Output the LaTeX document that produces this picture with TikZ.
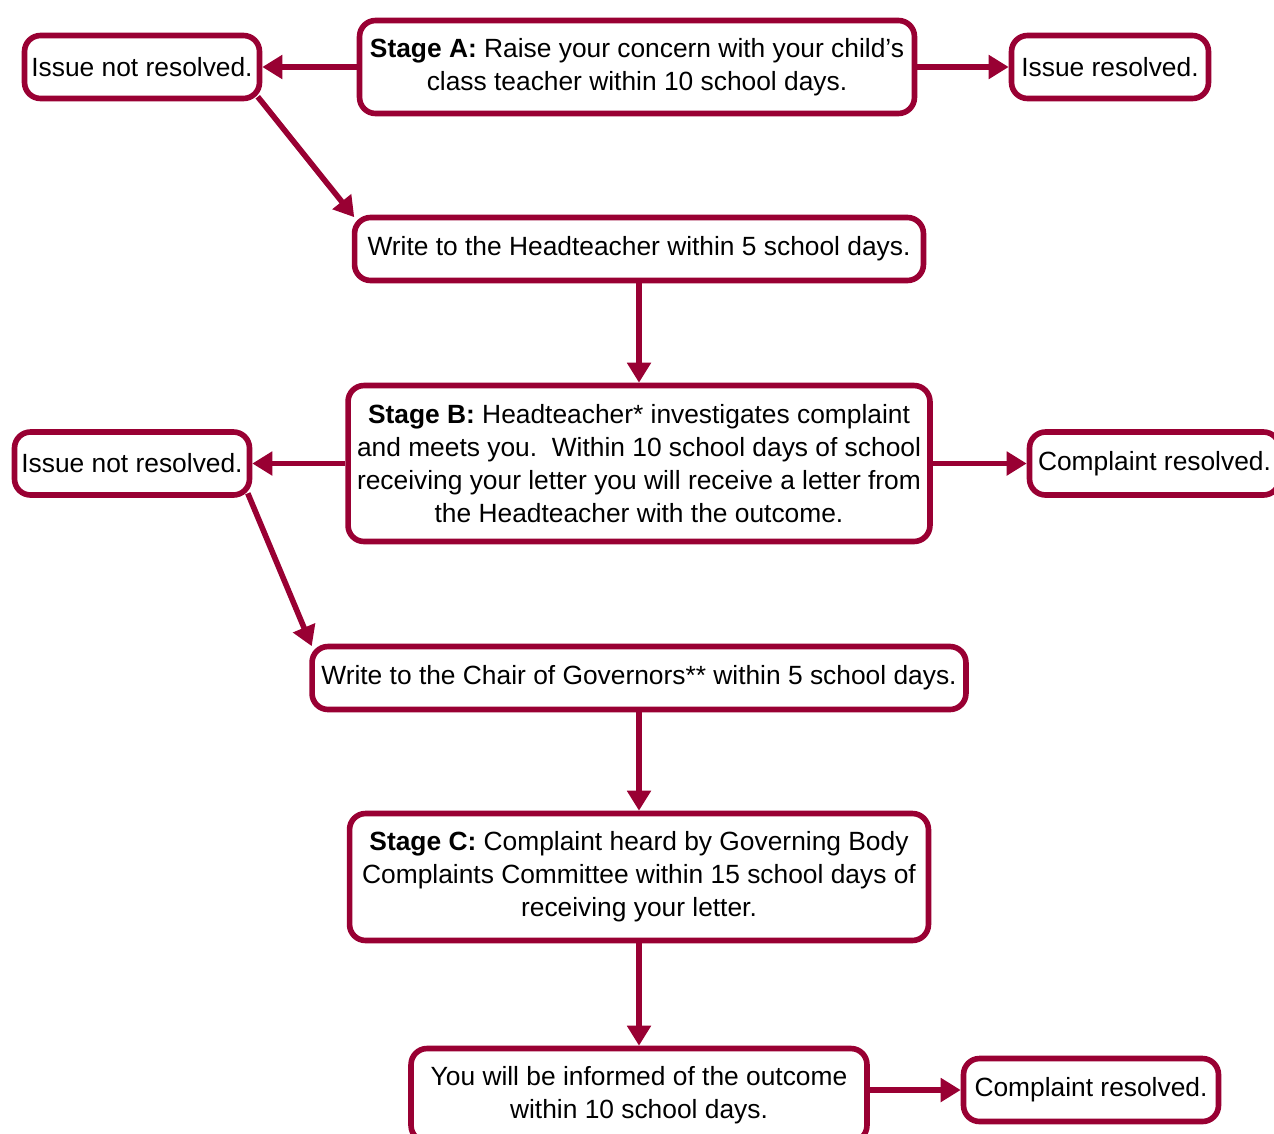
\documentclass[tikz,border=0pt]{standalone}
\usepackage{fontspec}
\setmainfont{Liberation Sans}
\usepackage{tikz}
\usepackage{xcolor}
\usetikzlibrary{positioning,shapes,arrows,arrows.meta}
\definecolor{claret}{HTML}{990033}

\begin{document}
\begin{tikzpicture}[x=0.02cm,y=-0.02cm]
\tikzstyle{every node}+=[inner sep=0pt]
\tikzstyle{stagebox}=[draw=claret, line width=3.2pt, rounded corners=0.32cm, align=center, font=\fontsize{15}{18.7}\selectfont]
\tikzstyle{flow}=[draw=claret, line width=3.2pt, -{Triangle[length=0.4cm,width=0.46cm]}]
\useasboundingbox (0,0) rectangle (1274,1133);
\node [stagebox, minimum width=11.1cm, minimum height=1.86cm] (stageA) at (637,67) {\textbf{Stage A:} Raise your concern with your child’s\\class teacher within 10 school days.};
\node [stagebox, minimum width=4.7cm, minimum height=1.26cm] (notresA) at (142,67) {Issue not resolved.};
\node [stagebox, minimum width=3.94cm, minimum height=1.26cm] (resA) at (1110,67) {Issue resolved.};
\node [stagebox, minimum width=11.38cm, minimum height=1.26cm] (writeHT) at (639,249) {Write to the Headteacher within 5 school days.};
\node [stagebox, minimum width=11.64cm, minimum height=3.12cm] (stageB) at (639,463.5) {\textbf{Stage B:} Headteacher* investigates complaint\\and meets you.\ \ Within 10 school days of school\\receiving your letter you will receive a letter from\\the Headteacher with the outcome.};
\node [stagebox, minimum width=4.7cm, minimum height=1.26cm] (notresB) at (132,463.5) {Issue not resolved.};
\node [stagebox, minimum width=5.0cm, minimum height=1.26cm] (resB) at (1154.5,463.5) {Complaint resolved.};
\node [stagebox, minimum width=13.08cm, minimum height=1.26cm] (writeChair) at (639,678) {Write to the Chair of Governors** within 5 school days.};
\node [stagebox, minimum width=11.58cm, minimum height=2.54cm] (stageC) at (639,877) {\textbf{Stage C:} Complaint heard by Governing Body\\Complaints Committee within 15 school days of\\receiving your letter.};
\node [stagebox, minimum width=9.12cm, minimum height=1.86cm] (informed) at (639,1095) {You will be informed of the outcome\\within 10 school days.};
\node [stagebox, minimum width=5.1cm, minimum height=1.26cm] (resC) at (1091,1090) {Complaint resolved.};
\draw [flow] (stageA.west) -- (notresA.east);
\draw [flow] (stageA.east) -- (resA.west);
\draw [flow] ([xshift=-0.09cm,yshift=0.09cm]notresA.south east) -- ([xshift=0.05cm,yshift=-0.05cm]writeHT.north west);
\draw [flow] (writeHT.south) -- (stageB.north);
\draw [flow] (stageB.west) -- (notresB.east);
\draw [flow] (stageB.east) -- (resB.west);
\draw [flow] ([xshift=-0.09cm,yshift=0.09cm]notresB.south east) -- ([xshift=0.05cm,yshift=-0.05cm]writeChair.north west);
\draw [flow] (writeChair.south) -- (stageC.north);
\draw [flow] (stageC.south) -- (informed.north);
\draw [flow] (informed.east |- resC.west) -- (resC.west);
\end{tikzpicture}
\end{document}
